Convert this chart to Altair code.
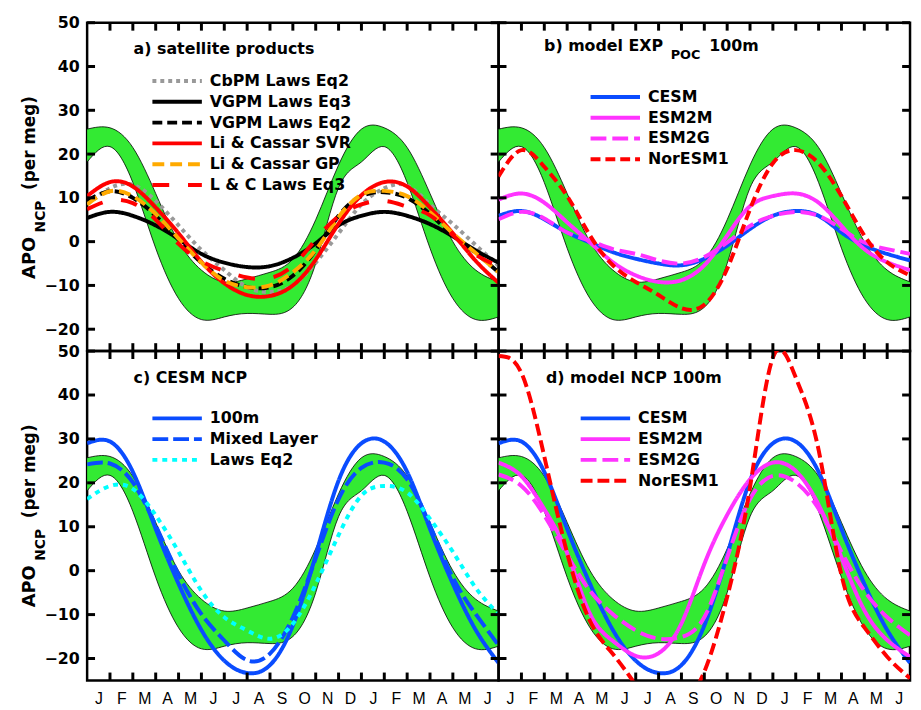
import altair as alt
import pandas as pd

# ---------------- data ----------------
months = list(range(19))  # month boundaries: 0 = 1 Jan ... 18 = 1 Jul of next year
month_letters = ["J", "F", "M", "A", "M", "J", "J", "A", "S", "O", "N", "D",
                 "J", "F", "M", "A", "M", "J"]
y_ticks = [-20, -10, 0, 10, 20, 30, 40, 50]
x_ticks = list(range(1, 18))

band_upper = [25.7, 26.0, 21.5, 11.0, 0.0, -6.5, -9.2, -8.5, -7.0, -4.0, 5.0, 17.5,
              25.7, 26.0, 21.5, 11.0, 0.0, -6.5, -9.2]
band_lower = [18.2, 21.7, 13.5, -1.5, -13.0, -17.8, -17.2, -16.4, -16.6, -15.0, -5.0, 12.3,
              18.2, 21.7, 13.5, -1.5, -13.0, -17.8, -17.2]

# panel a) satellite products
a_names = ["CbPM Laws Eq2", "VGPM Laws Eq3", "VGPM Laws Eq2", "Li & Cassar SVR",
           "Li & Cassar GP", "L & C Laws Eq3"]
a_cbpm = [8.5, 12.2, 13.0, 9.3, 3.7, -1.9, -6.5, -10.4, -11.5, -10.0, -4.8, 1.9,
          8.5, 12.2, 12.8, 8.5, 4.0, -0.8, -5.5]
a_vgpm3 = [5.4, 6.8, 5.9, 3.7, 0.6, -2.8, -4.8, -5.8, -5.6, -3.7, -0.4, 3.7,
           5.9, 6.8, 5.9, 4.0, 1.2, -2.0, -4.8]
a_vgpm2 = [9.3, 11.5, 10.0, 5.9, 0.4, -4.8, -8.5, -10.4, -10.4, -7.8, -1.9, 5.9,
           10.4, 11.3, 10.0, 6.3, 1.5, -2.6, -7.0]
a_svr = [10.4, 13.6, 12.6, 7.8, 1.9, -4.6, -9.5, -12.2, -12.4, -10.0, -4.1, 4.1,
         10.6, 13.6, 12.6, 7.8, 1.9, -4.4, -9.4]
a_gp = [8.5, 11.5, 10.4, 6.3, 0.7, -4.8, -8.9, -10.4, -10.0, -7.0, -1.9, 5.6,
        10.7, 11.6, 10.4, 6.7, 1.9, -2.6, -7.0]
a_lc3 = [7.4, 9.4, 8.8, 5.0, -0.5, -4.5, -6.7, -8.2, -8.3, -5.5, 0.5, 5.8,
         8.5, 9.3, 8.0, 6.0, 1.5, -3.0, -5.6]

# panel b) model EXP_POC 100m
b_names = ["CESM", "ESM2M", "ESM2G", "NorESM1"]
b_cesm = [5.9, 7.0, 5.1, 2.1, -0.2, -2.4, -3.9, -5.0, -5.4, -3.9, -0.9, 2.9,
          5.9, 7.0, 5.9, 2.1, -0.9, -2.8, -4.3]
b_esm2m = [9.6, 11.0, 8.9, 4.4, -0.2, -4.7, -7.7, -9.2, -8.8, -5.4, 1.4, 8.1,
           10.4, 11.0, 8.9, 3.6, -1.7, -4.7, -6.5]
b_esm2g = [5.1, 6.8, 5.3, 2.1, 0.2, -1.7, -2.8, -4.3, -5.0, -3.5, -0.2, 3.6,
           5.9, 6.8, 5.9, 2.9, -0.2, -1.7, -2.8]
b_nor = [14.9, 20.9, 17.1, 10.4, 1.4, -5.4, -9.2, -12.2, -15.2, -14.4, -6.2, 7.4,
         17.9, 20.9, 17.9, 10.4, 1.4, -4.7, -7.7]

# panel c) CESM NCP
c_names = ["100m", "Mixed Layer", "Laws Eq2"]
c_100m = [29.0, 29.4, 22.5, 9.5, -3.0, -13.5, -20.5, -23.3, -21.5, -12.5, 3.5, 20.5,
          29.0, 29.4, 22.5, 9.5, -3.0, -13.5, -21.0]
c_ml = [24.2, 24.4, 20.1, 10.3, -0.9, -9.9, -15.9, -20.4, -18.9, -10.6, 2.8, 16.3,
        23.4, 24.6, 20.8, 10.3, -1.6, -9.9, -17.0]
c_laws = [16.3, 19.3, 18.6, 12.6, 4.3, -4.6, -10.6, -13.6, -15.5, -12.1, -3.1, 8.1,
          17.1, 19.3, 17.8, 11.8, 4.3, -3.9, -9.9]

# panel d) model NCP 100m
d_names = ["CESM", "ESM2M", "ESM2G", "NorESM1"]
d_cesm = [29.0, 29.4, 22.5, 9.5, -3.0, -13.5, -20.5, -23.3, -21.5, -12.5, 3.5, 20.5,
          29.0, 29.4, 22.5, 9.5, -3.0, -13.5, -21.0]
d_esm2m = [24.6, 21.5, 14.0, 4.0, -9.8, -16.0, -19.4, -18.8, -12.0, 1.5, 12.7, 20.8,
           24.6, 22.7, 15.0, 3.0, -9.0, -15.8, -19.6]
d_esm2g = [21.9, 19.3, 12.6, 3.6, -4.6, -9.9, -13.6, -15.5, -15.1, -10.6, 3.0, 16.3,
           21.6, 20.1, 14.1, 4.3, -4.6, -10.6, -14.7]
d_nor = [48.9, 45.0, 26.0, 4.0, -11.5, -19.0, -26.0, -32.0, -31.0, -23.0, -6.0, 19.0,
         48.5, 44.0, 27.5, -1.0, -12.9, -19.6, -24.5]

# ---------------- styling ----------------
GREEN = "#33ea33"
BLUE = "#0a4cff"
MAGENTA = "#ff33ff"
RED = "#ff0000"
FONT = "DejaVu Sans"
W = 416
TICK = 8
X0, X1 = 0, 18
Y0, Y1 = -25, 50

xscale = alt.Scale(domain=[X0, X1], nice=False, zero=False)
yscale = alt.Scale(domain=[Y0, Y1], nice=False, zero=False)


def long_df(names, series):
    rows = []
    for n, s in zip(names, series):
        for m, v in zip(months, s):
            rows.append({"m": m, "v": v, "s": n})
    return pd.DataFrame(rows)


def txt(text, x, y, size, angle=0, baseline="alphabetic"):
    return alt.Chart(pd.DataFrame({"k": [0]})).mark_text(
        text=text, align="left", baseline=baseline, angle=angle,
        font=FONT, fontWeight="bold", fontSize=size, color="black"
    ).encode(x=alt.value(x), y=alt.value(y))


def panel(names, series, colors, dashes, widths, leg_x, leg_y, title_parts,
          show_x, show_y, height):
    band_df = pd.DataFrame({"m": months, "upper": band_upper, "lower": band_lower})
    # tick lengths expressed in data units so the ticks go through the scales
    tx = TICK / W * (X1 - X0)
    ty = TICK / height * (Y1 - Y0)
    ytick_df = pd.DataFrame({"t": y_ticks, "a": X0, "b": X0 + tx,
                             "c": X1 - tx, "d": X1})
    xtick_df = pd.DataFrame({"t": x_ticks, "a": Y0, "b": Y0 + ty,
                             "c": Y1 - ty, "d": Y1})

    yaxis = alt.Axis(orient="left", values=y_ticks, ticks=False, domain=False,
                     grid=False, labels=show_y, labelFont=FONT,
                     labelFontWeight="bold", labelFontSize=16, labelColor="black",
                     labelPadding=8, title=None)
    xaxis = alt.Axis(orient="bottom", values=list(range(18)), ticks=False,
                     domain=False, grid=False, labels=show_x,
                     labelExpr="['J','F','M','A','M','J','J','A','S','O','N','D','J','F','M','A','M','J'][datum.value]",
                     labelOffset=W / 36, labelFlush=False, labelOverlap=False,
                     labelFont="Liberation Sans", labelFontSize=16,
                     labelColor="black", labelPadding=10, title=None)

    def X(field):
        return alt.X(field, scale=xscale, axis=xaxis)

    def Y(field):
        return alt.Y(field, scale=yscale, axis=yaxis)

    area = alt.Chart(band_df).mark_area(color=GREEN, interpolate="natural").encode(
        x=X("m:Q"), y=Y("lower:Q"), y2="upper:Q")
    up_line = alt.Chart(band_df).mark_line(color="black", strokeWidth=0.8,
                                           interpolate="natural").encode(
        x=X("m:Q"), y=Y("upper:Q"))
    lo_line = alt.Chart(band_df).mark_line(color="black", strokeWidth=0.8,
                                           interpolate="natural").encode(
        x=X("m:Q"), y=Y("lower:Q"))

    leg = alt.Legend(orient="none", legendX=leg_x, legendY=leg_y, title=None,
                     symbolType="stroke", symbolSize=2500, symbolStrokeWidth=4,
                     labelFont=FONT, labelFontWeight="bold", labelFontSize=16,
                     labelColor="black", labelOffset=6, labelLimit=0, padding=0,
                     clipHeight=16, rowPadding=5)
    lines = alt.Chart(long_df(names, series)).mark_line(
        interpolate="natural", clip=True).encode(
        x=X("m:Q"), y=Y("v:Q"),
        color=alt.Color("s:N", scale=alt.Scale(domain=names, range=colors), legend=leg),
        strokeDash=alt.StrokeDash("s:N", scale=alt.Scale(domain=names, range=dashes),
                                  legend=leg),
        strokeWidth=alt.StrokeWidth("s:N", scale=alt.Scale(domain=names, range=widths),
                                    legend=None),
    )

    # inward tick marks on all four sides
    tick_l = alt.Chart(ytick_df).mark_rule(stroke="#000000", strokeWidth=3).encode(
        y=Y("t:Q"), x=X("a:Q"), x2="b:Q")
    tick_r = alt.Chart(ytick_df).mark_rule(stroke="#000000", strokeWidth=3).encode(
        y=Y("t:Q"), x=X("c:Q"), x2="d:Q")
    tick_b = alt.Chart(xtick_df).mark_rule(stroke="#000000", strokeWidth=3).encode(
        x=X("t:Q"), y=Y("a:Q"), y2="b:Q")
    tick_t = alt.Chart(xtick_df).mark_rule(stroke="#000000", strokeWidth=3).encode(
        x=X("t:Q"), y=Y("c:Q"), y2="d:Q")

    layers = [area, up_line, lo_line, lines, tick_l, tick_r, tick_b, tick_t]
    for (t, x, y, size) in title_parts:
        layers.append(txt(t, x, y, size))
    if show_y:
        layers.append(txt("APO", -53, 259, 18, angle=270))
        layers.append(txt("NCP", -43, 212, 14, angle=270))
        layers.append(txt("(per meg)", -53, 169, 17, angle=270))

    return alt.layer(*layers).properties(width=W, height=height)


pa = panel(a_names, [a_cbpm, a_vgpm3, a_vgpm2, a_svr, a_gp, a_lc3],
           ["#999999", "black", "black", RED, "#ffaa00", RED],
           [[4, 4], [1, 0], [10, 5], [1, 0], [12, 6], [17, 19]],
           [4, 4, 4, 4, 4, 4],
           64, 51, [("a) satellite products", 47, 32, 16)], False, True, 332)

pb = panel(b_names, [b_cesm, b_esm2m, b_esm2g, b_nor],
           [BLUE, MAGENTA, MAGENTA, RED],
           [[1, 0], [1, 0], [16, 6], [10, 5]],
           [4, 4, 4, 3],
           91, 67, [("b) model EXP", 46, 29, 16), ("POC", 174, 37, 13), ("100m", 213, 29, 16)],
           False, False, 332)

pc = panel(c_names, [c_100m, c_ml, c_laws],
           [BLUE, BLUE, "#00ffff"],
           [[1, 0], [16, 5], [5, 5]],
           [4, 4, 5],
           64, 60, [("c) CESM NCP", 47, 32, 16)], True, True, 333)

pd_ = panel(d_names, [d_cesm, d_esm2m, d_esm2g, d_nor],
            [BLUE, MAGENTA, MAGENTA, RED],
            [[1, 0], [1, 0], [16, 6], [12, 5]],
            [4, 4, 4, 3],
            81, 60, [("d) model NCP 100m", 48, 32, 16)], True, False, 333)

chart = alt.concat(pa, pb, pc, pd_, columns=2, spacing=0, bounds="flush").resolve_scale(
    color="independent", strokeDash="independent", strokeWidth="independent"
).resolve_legend(
    color="independent", strokeDash="independent"
).configure_view(
    stroke="black", strokeWidth=2.5
).configure_legend(
    labelFont=FONT, labelFontWeight="bold", labelFontSize=16
).properties(
    padding={"left": 11, "top": 1, "right": 0, "bottom": 0}
)

chart.save("out.html", embed_options={"renderer": "svg", "actions": False})
